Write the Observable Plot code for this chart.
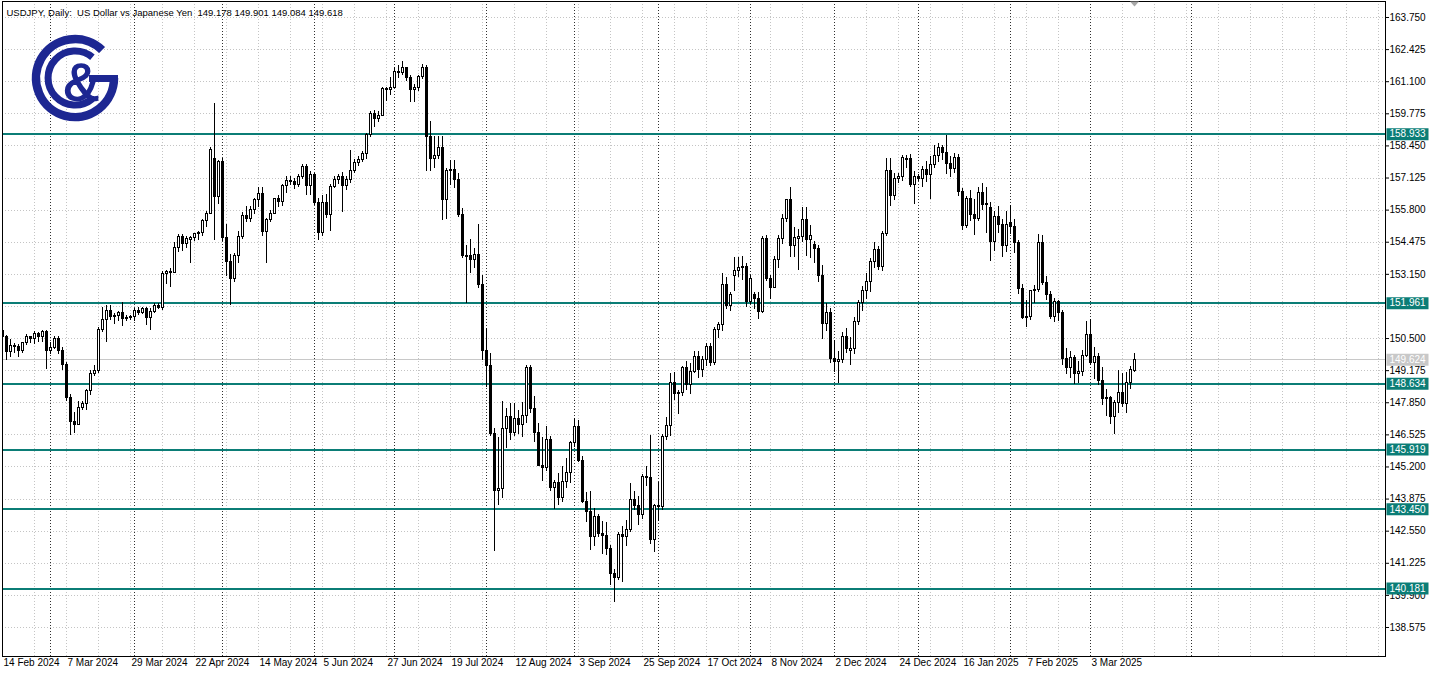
<!DOCTYPE html>
<html><head><meta charset="utf-8">
<script src="https://cdn.jsdelivr.net/npm/d3@7"></script>
<script src="https://cdn.jsdelivr.net/npm/@observablehq/plot@0.6"></script>
<style>
html,body{margin:0;padding:0;background:#fff;}
#wrap{position:relative;width:1432px;height:673px;overflow:hidden;}
#logo{position:absolute;left:0;top:0;}
</style></head><body>
<div id="wrap"><div id="chart"></div>
<svg id="logo" width="140" height="130" viewBox="0 0 140 130">
 <g fill="none" stroke="#1d2792">
  <path stroke-width="8.5" d="M102.1,50 A39,39 0 1 0 114,78"/>
  <path stroke-width="7" d="M118,78.5 H89"/>
  <path stroke-width="7" d="M92.4,57.3 A27,27 0 1 0 92.4,98.7"/>
 </g>
 <text x="81" y="100" font-family="Liberation Sans, Arial, sans-serif" font-size="52" fill="#1d2792" stroke="#1d2792" stroke-width="1.5" text-anchor="middle">&amp;</text>
</svg>
</div>
<script>
const title = "USDJPY, Daily:  US Dollar vs Japanese Yen  149.178 149.901 149.084 149.618";

// Daily OHLC, bar 0 = 14 Feb 2024 ... bar 283 = 18 Mar 2025
const open = [150.80,150.55,149.95,150.20,150.15,150.00,150.30,150.55,150.50,150.70,150.55,150.75,150.00,150.10,150.50,150.00,149.40,148.05,147.05,146.95,147.65,147.80,148.35,149.05,149.15,150.85,151.25,151.65,151.40,151.45,151.55,151.30,151.35,151.38,151.65,151.55,151.70,151.35,151.60,151.85,151.78,153.15,153.25,153.22,154.25,154.70,154.40,154.55,154.65,154.80,154.85,155.35,155.65,157.90,156.35,157.80,154.65,153.65,152.95,153.90,154.70,155.55,155.45,155.80,156.20,156.45,154.90,155.40,155.65,156.25,156.15,156.80,157.00,156.95,156.85,157.15,157.60,156.80,157.25,156.10,154.85,156.10,155.60,156.75,157.05,157.15,156.80,157.05,157.40,157.75,157.85,158.10,158.90,159.75,159.55,159.70,160.80,160.75,160.85,161.50,161.45,161.65,161.25,160.75,160.85,161.30,161.65,158.80,157.90,158.05,158.35,156.20,157.40,157.45,157.05,155.60,153.85,153.90,153.75,153.95,152.70,149.98,149.35,146.55,144.20,144.30,146.75,147.25,146.60,147.20,146.95,147.30,149.30,147.60,146.60,145.25,145.15,146.30,144.35,144.55,143.90,144.60,144.95,146.20,146.85,145.45,143.75,143.35,142.30,143.15,142.45,142.35,141.80,140.80,140.60,142.40,142.30,142.60,143.85,143.60,143.20,144.80,144.75,142.20,143.60,143.55,146.45,146.90,148.65,148.20,148.25,149.30,148.60,149.10,149.75,149.20,149.60,150.15,149.50,150.85,151.05,152.70,151.85,153.10,153.30,153.40,153.45,152.00,152.30,152.15,151.60,154.60,152.95,152.60,153.75,154.60,155.45,156.20,154.30,154.60,154.68,155.40,154.55,154.35,154.20,153.10,151.10,151.55,149.65,149.55,149.60,150.55,149.98,150.05,151.20,151.95,152.45,152.85,153.65,154.15,153.45,154.80,157.40,156.40,157.10,157.15,157.85,157.92,156.85,157.15,157.10,157.45,157.25,157.65,158.05,158.35,158.15,157.70,157.50,157.95,156.55,155.15,156.25,155.60,155.45,156.50,156.00,155.90,154.50,155.50,155.20,154.30,155.25,155.10,154.45,152.55,151.35,151.40,152.45,152.50,154.45,152.80,152.30,151.40,152.00,151.55,149.65,149.30,149.70,149.05,149.10,149.80,150.65,149.50,149.75,148.75,148.00,148.05,147.25,147.85,148.25,147.80,148.65,149.178];
const high = [150.90,150.62,150.45,150.30,150.25,150.35,150.65,150.60,150.80,150.75,150.85,150.85,150.35,150.60,150.60,150.15,149.50,148.20,147.45,147.90,147.90,148.40,149.20,149.40,150.95,151.80,151.85,151.85,151.55,151.60,151.97,151.45,151.45,151.75,151.80,151.80,151.80,151.75,151.95,151.95,153.25,153.30,153.40,154.45,154.80,154.80,154.70,154.70,154.85,154.90,155.40,155.75,158.40,160.20,157.85,157.95,155.20,153.95,154.00,154.90,155.70,155.95,155.95,156.30,156.75,156.75,155.45,155.80,156.30,156.40,156.85,157.20,157.20,157.10,157.25,157.70,157.70,157.40,157.30,156.30,156.40,156.45,156.85,157.20,157.25,157.35,157.20,158.26,157.90,158.00,158.20,158.95,159.85,159.90,159.85,160.85,160.85,161.28,161.70,161.75,161.95,161.70,161.35,161.00,161.35,161.80,161.75,159.45,158.85,158.85,158.85,157.50,157.85,157.85,157.30,155.85,154.35,154.60,154.20,155.20,153.10,150.90,149.90,146.80,146.40,147.90,147.60,147.80,147.80,147.55,147.85,149.40,149.40,148.10,147.00,146.40,146.85,146.45,144.65,144.95,145.20,145.55,146.25,147.20,147.10,145.65,144.15,144.20,143.50,143.25,142.95,142.90,141.95,140.95,142.50,142.75,143.00,144.50,144.20,144.00,144.90,145.20,146.50,143.65,144.55,146.55,147.25,149.05,149.10,148.35,149.35,149.55,149.45,149.95,149.95,149.75,150.30,150.30,150.95,151.15,153.20,153.00,152.40,153.85,153.85,153.90,153.60,153.10,152.40,152.40,154.70,154.75,153.10,153.90,154.75,155.60,156.25,156.75,155.10,155.00,155.90,155.90,155.15,154.50,154.35,153.50,151.95,151.75,150.40,149.95,150.75,150.90,150.55,151.35,152.05,152.65,153.20,153.80,154.45,154.30,154.90,157.95,157.95,157.30,157.30,158.05,158.05,158.10,157.40,157.25,157.60,157.80,158.00,158.45,158.55,158.45,158.90,158.00,158.15,158.10,156.70,156.35,156.60,156.25,156.75,156.90,156.75,156.10,155.75,155.95,155.40,155.75,156.00,155.40,154.55,152.75,152.05,152.50,152.70,154.80,154.75,153.05,152.45,152.15,152.05,151.65,150.10,149.95,149.80,149.55,150.00,151.20,151.30,150.15,149.90,149.30,148.40,148.10,147.95,149.20,149.05,149.10,149.35,149.901];
const low = [150.35,149.58,149.70,149.90,149.70,149.90,150.20,150.30,150.25,150.35,150.35,149.22,149.85,150.05,149.85,149.20,147.90,146.50,146.60,146.90,147.55,147.55,148.15,148.95,149.05,150.75,150.35,151.25,151.10,151.20,151.00,151.20,151.25,151.20,151.45,151.50,151.05,150.85,151.55,151.70,151.65,152.75,152.60,153.20,154.05,154.10,154.20,153.60,154.50,154.55,154.70,155.10,155.60,154.55,156.05,154.50,153.05,151.86,152.80,153.60,154.60,155.30,155.30,155.60,155.90,154.70,153.60,155.30,155.60,155.90,155.95,156.50,156.80,156.65,156.75,157.05,156.40,156.40,156.00,154.55,154.70,155.45,154.90,156.70,156.85,155.70,156.60,156.90,157.30,157.60,157.75,157.90,158.80,159.20,159.40,159.65,160.30,160.55,160.80,161.25,161.35,161.10,160.25,160.25,160.70,161.20,157.40,157.40,157.50,157.90,155.37,155.40,156.80,156.70,155.50,153.80,151.94,153.20,153.40,152.55,149.60,148.50,146.45,141.70,143.60,143.90,145.95,146.30,146.45,146.55,146.40,147.00,147.40,146.20,145.20,144.60,145.00,144.20,143.45,143.60,143.75,144.30,144.50,146.00,145.40,143.70,142.90,141.75,141.90,142.30,141.60,141.55,140.30,139.60,140.50,140.45,141.90,142.50,143.40,142.80,143.05,144.40,142.00,141.65,142.95,143.40,146.30,146.45,147.95,147.35,148.10,148.35,148.20,149.05,148.85,148.90,149.35,149.35,149.40,150.50,150.80,151.70,151.60,152.45,153.00,152.90,151.80,151.90,151.70,151.30,151.55,152.85,152.10,152.55,153.40,154.40,155.30,153.85,153.85,153.30,154.45,153.90,153.80,153.60,152.80,150.45,150.80,149.45,149.10,148.65,149.45,149.90,149.40,149.85,151.05,151.60,152.10,152.40,153.40,153.30,153.25,154.70,155.95,156.20,156.90,157.00,157.50,156.75,156.05,157.00,156.75,156.95,156.25,157.50,157.75,157.85,157.25,157.15,157.30,156.35,154.95,155.05,155.35,154.75,155.35,155.80,154.85,153.70,154.10,154.85,153.85,154.05,154.80,154.00,152.30,151.30,150.95,151.25,151.95,152.40,152.70,152.05,151.30,151.15,151.20,149.40,149.00,148.85,148.60,148.65,148.95,149.70,149.40,148.80,148.55,147.75,147.30,146.95,146.55,147.40,147.65,147.40,148.40,149.084];
const close = [150.55,149.95,150.20,150.15,150.00,150.30,150.55,150.50,150.70,150.55,150.75,150.00,150.10,150.50,150.00,149.40,148.05,147.05,146.95,147.65,147.80,148.35,149.05,149.15,150.85,151.25,151.65,151.40,151.45,151.55,151.30,151.35,151.38,151.65,151.55,151.70,151.35,151.60,151.85,151.78,153.15,153.25,153.22,154.25,154.70,154.40,154.60,154.65,154.80,154.85,155.35,155.65,158.30,156.35,157.80,154.65,153.65,152.95,153.90,154.70,155.55,155.45,155.80,156.20,156.45,154.90,155.40,155.65,156.25,156.15,156.80,157.00,156.95,156.85,157.15,157.60,156.80,157.25,156.10,154.85,156.10,155.60,156.75,157.05,157.15,156.80,157.05,157.40,157.75,157.85,158.10,158.90,159.75,159.55,159.70,160.80,160.75,160.85,161.50,161.45,161.65,161.25,160.75,160.85,161.30,161.65,158.80,157.90,158.05,158.35,156.20,157.40,157.45,157.05,155.60,153.90,153.90,153.75,153.95,152.70,149.98,149.35,146.55,144.20,144.30,146.75,147.25,146.60,147.20,146.95,147.30,149.30,147.60,146.60,145.25,145.15,146.30,144.35,144.55,143.90,144.60,144.95,146.20,146.85,145.45,143.75,143.35,142.30,143.15,142.45,142.35,141.80,140.80,140.60,142.40,142.30,142.60,143.85,143.60,143.20,144.80,144.75,142.20,143.60,143.55,146.45,146.90,148.65,148.20,148.25,149.30,148.60,149.10,149.75,149.20,149.60,150.15,149.50,150.85,151.05,152.70,151.85,152.30,153.30,153.40,153.45,152.00,152.95,152.15,151.60,154.60,152.95,152.60,153.75,154.60,155.45,156.20,154.30,154.65,154.68,155.40,154.55,154.75,154.20,153.10,151.10,151.55,149.65,149.55,149.60,150.55,150.05,150.05,151.20,151.95,152.45,152.85,153.65,154.15,153.45,154.80,157.40,156.40,157.10,157.15,157.95,157.92,156.85,157.15,157.10,157.45,157.25,157.65,158.05,158.35,158.15,157.70,157.50,157.95,156.55,155.15,156.25,155.60,155.45,156.50,156.00,156.05,154.50,155.50,155.20,154.30,155.20,155.10,154.45,152.55,151.35,151.40,152.45,152.50,154.45,152.80,152.30,151.40,152.00,151.55,149.65,149.30,149.70,149.05,149.10,149.80,150.65,149.50,149.75,148.75,148.00,148.05,147.25,147.85,148.25,147.80,148.65,149.20,149.618];

// time axis labels (every 16 bars) and month separators (bar index)
const dateTicks = [0,16,32,48,64,80,96,112,128,144,160,176,192,208,224,240,256,272];
const dateLabels = ["14 Feb 2024","7 Mar 2024","29 Mar 2024","22 Apr 2024","14 May 2024","5 Jun 2024","27 Jun 2024","19 Jul 2024","12 Aug 2024","3 Sep 2024","25 Sep 2024","17 Oct 2024","8 Nov 2024","2 Dec 2024","24 Dec 2024","16 Jan 2025","7 Feb 2025","3 Mar 2025"];
const separators = [12,33,55,78,98,121,143,164,187,208,229,252,272,297.25];
const yTicks = [163.750,162.425,161.100,159.775,158.450,157.125,155.800,154.475,153.150,151.825,150.500,149.175,147.850,146.525,145.200,143.875,142.550,141.225,139.900,138.575];
const levels = [158.933,151.961,148.634,145.919,143.450,140.181];
const bid = 149.624;

const teal = "#0b7d76";
const fmt = d3.format(".3f");
const bars = open.map((o, i) => ({i, o, h: high[i], l: low[i], c: close[i]}));
const gridX = d3.range(0, 346, 8);
const lastBar = bars.length - 1;
// a price label hidden behind a level box in the reference is not printed
const hidden = yTicks.filter(t => levels.some(l => Math.abs(l - t) < 0.25));
const shownTicks = yTicks.filter(t => !hidden.includes(t));

const boxSymbol = {draw(ctx) { ctx.moveTo(-21, -6); ctx.lineTo(21, -6); ctx.lineTo(21, 6); ctx.lineTo(-21, 6); ctx.closePath(); }};
const triSymbol = {draw(ctx) { ctx.moveTo(-4.5, 0); ctx.lineTo(4.5, 0); ctx.lineTo(0, 5); ctx.closePath(); }};

const chart = Plot.plot({
  width: 1432, height: 673,
  marginLeft: 2, marginRight: 47, marginTop: 1, marginBottom: 17,
  x: {type: "linear", domain: [0, 345.75], axis: null},
  y: {type: "linear", domain: [137.378, 164.410]},
  color: {type: "identity"},
  style: {fontFamily: "'Liberation Sans', Arial, sans-serif", fontSize: "10px", color: "black", background: "white", overflow: "visible"},
  marks: [
    Plot.ruleX(gridX, {x: d => d, stroke: "#c4c4c4", strokeDasharray: "1,2", shapeRendering: "crispEdges"}),
    Plot.ruleY(yTicks, {y: d => d, stroke: "#c4c4c4", strokeDasharray: "1,2", shapeRendering: "crispEdges"}),
    Plot.ruleX(separators, {x: d => d, stroke: "#303030", strokeDasharray: "1,2", shapeRendering: "crispEdges"}),
    Plot.ruleY([bid], {y: d => d, stroke: "#c8c8c8", shapeRendering: "crispEdges"}),
    Plot.ruleY(levels, {y: d => d, stroke: teal, strokeWidth: 2, shapeRendering: "crispEdges"}),
    Plot.ruleX(bars, {x: "i", y1: "l", y2: "h", stroke: "black", clip: true, shapeRendering: "crispEdges"}),
    Plot.rectY(bars, {x1: d => d.i - 0.25, x2: d => d.i + 0.25, y1: "o", y2: "c", fill: d => d.c >= d.o ? "white" : "black", stroke: "black", clip: true, shapeRendering: "crispEdges"}),
    Plot.frame({stroke: "black", shapeRendering: "crispEdges"}),
    Plot.axisY(shownTicks, {anchor: "right", tickFormat: fmt, tickSize: 3, tickPadding: 1, label: null, fontSize: 10}),
    Plot.text(dateTicks, {x: d => d, text: (d, i) => dateLabels[i], frameAnchor: "bottom", dy: 9, dx: 1, textAnchor: "start", fontSize: 10}),
    Plot.dot(levels, {y: d => d, frameAnchor: "right", dx: 22, symbol: boxSymbol, r: 5, fill: teal, stroke: "none"}),
    Plot.text(levels, {y: d => d, frameAnchor: "right", dx: 4, textAnchor: "start", text: d => fmt(d), fill: "white", fontSize: 10}),
    Plot.dot([bid], {y: d => d, frameAnchor: "right", dx: 22, symbol: boxSymbol, r: 5, fill: "#c8c8c8", stroke: "none"}),
    Plot.text([bid], {y: d => d, frameAnchor: "right", dx: 4, textAnchor: "start", text: d => fmt(d), fill: "white", fontSize: 10}),
    Plot.dot([lastBar], {x: d => d, frameAnchor: "top", symbol: triSymbol, r: 4, fill: "#a8a8a8", stroke: "none"}),
    Plot.text([title], {frameAnchor: "top-left", dx: 4, dy: 8, textAnchor: "start", text: d => d, fontSize: 9.5})
  ]
});
document.getElementById("chart").appendChild(chart);
</script>
</body></html>
